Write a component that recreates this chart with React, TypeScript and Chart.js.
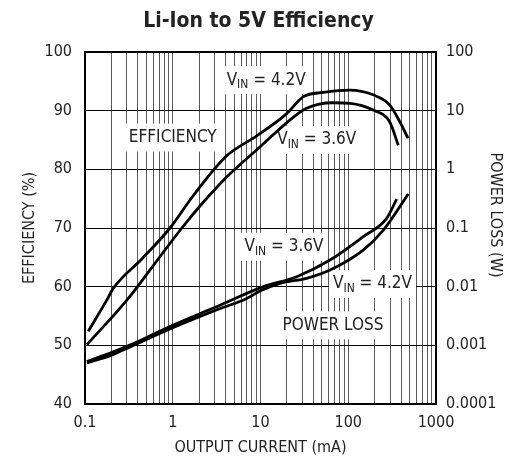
import React, { useEffect, useRef } from 'react';
import { Chart, registerables } from 'chart.js';

Chart.register(...registerables);

const FONT = "'Liberation Sans Narrow', 'DejaVu Sans Condensed', 'Arial Narrow', sans-serif";
const TEXT = '#222';

// Efficiency, VIN = 4.2V
const eff42Current = [0.109, 0.177, 0.21, 0.45, 0.93, 1.71, 4.12, 9.06, 19.9, 30.8, 52, 105, 192, 296, 390, 480];
const eff42Value = [52.4, 57.7, 59.7, 64.8, 70, 75.5, 82.3, 85.7, 89.5, 92.4, 93.1, 93.5, 92.7, 91, 88, 85.3];

// Efficiency, VIN = 3.6V
const eff36Current = [0.105, 0.3, 0.6, 1.27, 2.2, 4.12, 10, 21.6, 33.5, 67, 105, 192, 296, 372];
const eff36Value = [50.1, 57.7, 63.6, 70, 74.3, 78.7, 83.9, 88.4, 90.4, 91.35, 91.25, 90.1, 88.1, 84.1];

// Power loss (W), VIN = 3.6V
const pl36Current = [0.105, 0.2, 0.33, 1, 3, 10.8, 25.9, 62, 148, 274, 356];
const pl36Value = [0.00053, 0.00075, 0.00102, 0.0022, 0.0044, 0.01, 0.0148, 0.0284, 0.071, 0.146, 0.31];

// Power loss (W), VIN = 4.2V
const pl42Current = [0.105, 0.2, 0.33, 1, 3, 6.97, 10, 16.7, 33.6, 62, 148, 251, 483];
const pl42Value = [0.0005, 0.00068, 0.00095, 0.002, 0.0039, 0.0063, 0.0085, 0.0114, 0.0139, 0.0192, 0.042, 0.092, 0.38];

// Axes
const xTickValues = [0.1, 1, 10, 100, 1000];
const xTickLabels = ['0.1', '1', '10', '100', '1000'];
const xGridValues = [
  0.1, 0.2, 0.3, 0.4, 0.5, 0.6, 0.7, 0.8, 0.9,
  1, 2, 3, 4, 5, 6, 7, 8, 9,
  10, 20, 30, 40, 50, 60, 70, 80, 90,
  100, 200, 300, 400, 500, 600, 700, 800, 900, 1000,
];
const yTickValues = [40, 50, 60, 70, 80, 90, 100];
const y2TickValues = [0.0001, 0.001, 0.01, 0.1, 1, 10, 100];
const y2TickLabels = ['0.0001', '0.001', '0.01', '0.1', '1', '10', '100'];

// In-plot labels (anchored to current / efficiency-axis values)
const labelMain = ['V', 'EFFICIENCY', 'V', 'V', 'V', 'POWER LOSS'];
const labelSub = ['IN', '', 'IN', 'IN', 'IN', ''];
const labelRest = [' = 4.2V', '', ' = 3.6V', ' = 3.6V', ' = 4.2V', ''];
const labelX = [11.6, 1.0, 43.7, 18.5, 189, 67];
const labelY = [95.2, 85.4, 85.0, 66.8, 60.45, 53.4];

const toPoints = (xs: number[], ys: number[]) => xs.map((x, i) => ({ x, y: ys[i] }));

const labelsPlugin = {
  id: 'inPlotLabels',
  beforeDatasetsDraw(chart: any) {
    const { ctx, chartArea, scales } = chart;
    const x = scales.x;
    const y = scales.y;
    ctx.save();
    // frame
    ctx.strokeStyle = '#000';
    ctx.lineWidth = 2;
    ctx.strokeRect(chartArea.left, chartArea.top, chartArea.right - chartArea.left, chartArea.bottom - chartArea.top);

    const mainFont = `17px ${FONT}`;
    const subFont = `12px ${FONT}`;
    for (let i = 0; i < labelMain.length; i++) {
      const cx = x.getPixelForValue(labelX[i]);
      const cy = y.getPixelForValue(labelY[i]);
      ctx.font = mainFont;
      const w1 = ctx.measureText(labelMain[i]).width;
      const w3 = ctx.measureText(labelRest[i]).width;
      ctx.font = subFont;
      const w2 = ctx.measureText(labelSub[i]).width;
      const w = w1 + w2 + w3;
      const h = 28;
      ctx.fillStyle = '#fff';
      ctx.fillRect(cx - w / 2 - 4, cy - h / 2, w + 8, h);
      ctx.fillStyle = TEXT;
      ctx.textBaseline = 'middle';
      ctx.textAlign = 'left';
      let px = cx - w / 2;
      ctx.font = mainFont;
      ctx.fillText(labelMain[i], px, cy);
      px += w1;
      if (labelSub[i]) {
        ctx.font = subFont;
        ctx.fillText(labelSub[i], px, cy + 5);
        px += w2;
      }
      if (labelRest[i]) {
        ctx.font = mainFont;
        ctx.fillText(labelRest[i], px, cy);
      }
    }
    ctx.restore();
  },
  afterDraw(chart: any) {
    const { ctx, chartArea, scales } = chart;
    const y2 = scales.y2;
    ctx.save();
    ctx.font = `16px ${FONT}`;
    ctx.fillStyle = TEXT;
    ctx.textAlign = 'center';
    ctx.textBaseline = 'middle';
    ctx.translate(y2.right - 21.5, (chartArea.top + chartArea.bottom) / 2 - 13);
    ctx.rotate(Math.PI / 2);
    ctx.fillText('POWER LOSS (W)', 0, 0);
    ctx.restore();
  },
};

export default function App() {
  const ref = useRef<HTMLCanvasElement | null>(null);

  useEffect(() => {
    if (!ref.current) return;
    const line = (data: any[], axis: string) => ({
      data,
      yAxisID: axis,
      borderColor: '#000',
      borderWidth: 2.8,
      pointRadius: 0,
      fill: false,
      cubicInterpolationMode: 'monotone' as const,
      clip: false as any,
    });
    const chart = new Chart(ref.current, {
      type: 'line',
      data: {
        datasets: [
          line(toPoints(eff42Current, eff42Value), 'y'),
          line(toPoints(eff36Current, eff36Value), 'y'),
          line(toPoints(pl36Current, pl36Value), 'y2'),
          line(toPoints(pl42Current, pl42Value), 'y2'),
        ],
      },
      options: {
        responsive: false,
        animation: false,
        devicePixelRatio: 1,
        layout: { padding: 0 },
        plugins: {
          legend: { display: false },
          tooltip: { enabled: false },
          title: {
            display: true,
            text: 'Li-Ion to 5V Efficiency',
            color: TEXT,
            font: { family: FONT, size: 21, weight: 'bold' },
            padding: { top: 9, bottom: 17.8 },
          },
        },
        scales: {
          x: {
            type: 'logarithmic',
            min: 0.1,
            max: 1000,
            border: { display: false },
            grid: { color: '#5a5a5a', lineWidth: 1, drawTicks: false },
            afterBuildTicks: (s: any) => {
              s.ticks = xGridValues.map((v) => ({ value: v }));
            },
            afterFit: (s: any) => {
              s.height = 58;
            },
            ticks: {
              autoSkip: false,
              maxRotation: 0,
              padding: 9,
              color: TEXT,
              font: { family: FONT, size: 16 },
              callback: (v: any) => {
                const idx = xTickValues.findIndex((t) => Math.abs(t - Number(v)) / t < 1e-6);
                return idx >= 0 ? xTickLabels[idx] : '';
              },
            },
            title: {
              display: true,
              text: 'OUTPUT CURRENT (mA)',
              color: TEXT,
              font: { family: FONT, size: 16 },
              padding: { top: 0, bottom: 5 },
            },
          },
          y: {
            type: 'linear',
            position: 'left',
            min: 40,
            max: 100,
            border: { display: false },
            grid: { color: '#000', lineWidth: 1, drawTicks: false },
            afterBuildTicks: (s: any) => {
              s.ticks = yTickValues.map((v) => ({ value: v }));
            },
            afterFit: (s: any) => {
              s.width = 85;
            },
            ticks: {
              padding: 13,
              color: TEXT,
              font: { family: FONT, size: 16 },
            },
            title: {
              display: true,
              text: 'EFFICIENCY (%)',
              color: TEXT,
              font: { family: FONT, size: 16 },
              padding: { top: 20, bottom: 0 },
            },
          },
          y2: {
            type: 'logarithmic',
            position: 'right',
            min: 0.0001,
            max: 100,
            border: { display: false },
            grid: { display: false, drawTicks: false },
            afterBuildTicks: (s: any) => {
              s.ticks = y2TickValues.map((v) => ({ value: v }));
            },
            afterFit: (s: any) => {
              s.width = 81;
            },
            ticks: {
              padding: 10,
              color: TEXT,
              font: { family: FONT, size: 16 },
              callback: (v: any) => {
                const idx = y2TickValues.findIndex((t) => Math.abs(t - Number(v)) / t < 1e-6);
                return idx >= 0 ? y2TickLabels[idx] : '';
              },
            },
          },
        },
      },
      plugins: [labelsPlugin],
    });
    return () => chart.destroy();
  }, []);

  return (
    <div style={{ position: 'absolute', left: 0, top: 0, width: 517, height: 462 }}>
      <canvas ref={ref} width={517} height={462} style={{ display: 'block' }} />
    </div>
  );
}
